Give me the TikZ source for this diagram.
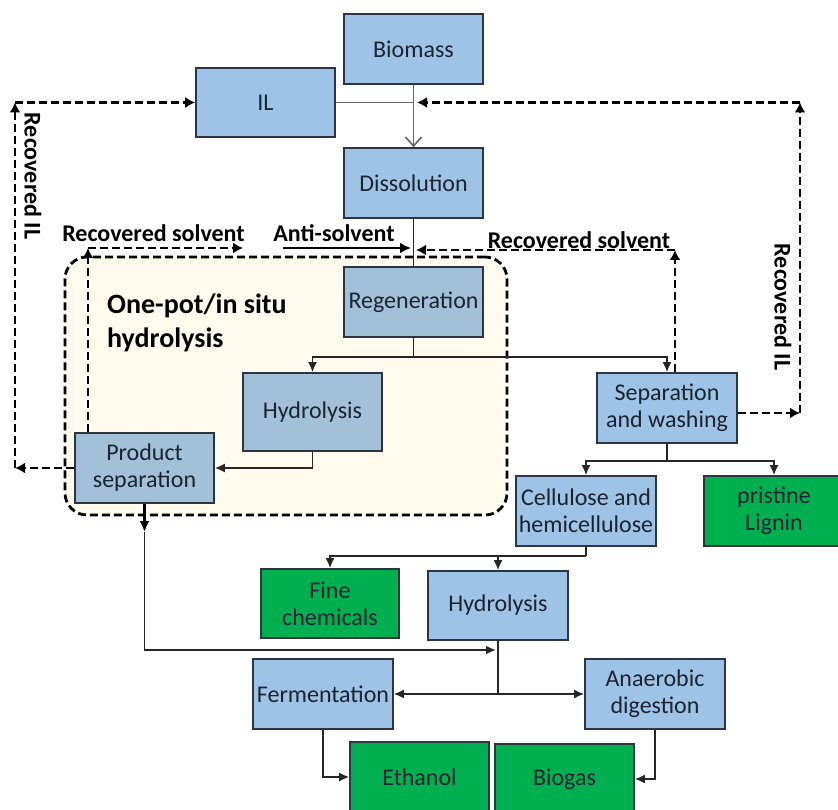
\documentclass[tikz,border=0pt]{standalone}
\usepackage{fontspec}
\setmainfont{Carlito}
\usetikzlibrary{arrows.meta}
\definecolor{procblue}{HTML}{9DC3E6}
\definecolor{potblue}{HTML}{A3C0D9}
\definecolor{prodgreen}{HTML}{00B050}
\definecolor{potcream}{HTML}{FFFBEE}
\definecolor{edgegray}{HTML}{2E3440}
\definecolor{linegray}{HTML}{262626}
\definecolor{txtdark}{HTML}{1B2433}
\tikzset{
  box/.style={draw=edgegray, line width=1.6pt, rectangle, inner sep=0pt,
    minimum width=139pt, minimum height=70pt, align=center, text=txtdark,
    font=\fontsize{24}{27}\selectfont},
  proc/.style={box, fill=procblue},
  potproc/.style={box, fill=potblue},
  prod/.style={box, fill=prodgreen},
  flow/.style={draw=linegray, line width=1.8pt},
  flowarr/.style={flow, -{Latex[length=10pt,width=9pt]}},
  recyc/.style={draw=black, line width=2.8pt, dash pattern=on 8pt off 4pt},
  recycarr/.style={recyc, -{Latex[length=10pt,width=11pt]}},
  lbl/.style={font=\fontsize{24}{27}\selectfont\bfseries, text=black, inner sep=0pt},
}
\begin{document}
\begin{tikzpicture}[x=1pt,y=-1pt]
\clip (0,0) rectangle (838,810);
\fill[white] (0,0) rectangle (838,810);

% one-pot region
\node[draw=black, line width=2.8pt, dash pattern=on 8pt off 4pt, fill=potcream,
  rounded corners=22pt, minimum width=442pt, minimum height=258pt, inner sep=0pt]
  (pot) at (286,386) {};
\node[font=\fontsize{28}{34}\selectfont\bfseries, align=left, anchor=west, inner sep=0pt]
  (pottitle) at (107,323) {One-pot/in situ\\hydrolysis};

% process boxes
\node[proc] (bio) at (413.5,49) {Biomass};
\node[proc, minimum height=69pt] (il) at (265.5,102.5) {IL};
\node[proc] (dis) at (413.5,183) {Dissolution};
\node[potproc] (reg) at (413.5,302) {Regeneration};
\node[potproc, minimum height=78pt] (hyd1) at (312.5,412) {Hydrolysis};
\node[potproc] (ps) at (144.5,468) {Product\\separation};
\node[proc, minimum width=140pt] (sw) at (667,408) {Separation\\and washing};
\node[proc, minimum width=140pt] (cel) at (586,511) {Cellulose and\\hemicellulose};
\node[prod, minimum width=140pt] (lig) at (774,511) {pristine\\Lignin};
\node[prod, minimum width=138pt, minimum height=69pt] (fine) at (330,603.5) {Fine\\chemicals};
\node[proc, minimum width=140pt, minimum height=69pt] (hyd2) at (498,605.5) {Hydrolysis};
\node[proc, minimum width=140pt] (fer) at (323,694) {Fermentation};
\node[proc, minimum width=140pt] (ana) at (655,694) {Anaerobic\\digestion};
\node[prod] (eth) at (419.5,777) {Ethanol};
\node[prod] (bgs) at (564.5,779) {Biogas};

% labels
\node[lbl] (lrs) at (153.5,233) {Recovered solvent};
\node[lbl] (las) at (334,233) {Anti-solvent};
\node[lbl] (rrs) at (579,240) {Recovered solvent};
\node[lbl, rotate=-90] (lil) at (33,176) {Recovered IL};
\node[lbl, rotate=-90] (ril) at (783,307) {Recovered IL};

% junction points
\coordinate (jIL) at (413.5,102.5);
\coordinate (jReg) at (413.5,357);
\coordinate (jSw) at (667,461);
\coordinate (jCel) at (586,556);
\coordinate (jH2) at (498,694);
\coordinate (asA) at (283,248);
\coordinate (asB) at (411,248);
\coordinate (rsR) at (675,250);
\coordinate (rsL) at (416,250);
\coordinate (lsC) at (88,248);
\coordinate (lsE) at (243,248);
\coordinate (lilB) at (15,468);
\coordinate (lilT) at (15,102.5);
\coordinate (rilB) at (800,413);
\coordinate (rilT) at (800,102.5);
\coordinate (rilE) at (417,102.5);
\coordinate (psA) at (144.5,532);
\coordinate (mix) at (496,650);

% main flow
\draw[draw=gray!80!black, line width=1.6pt, -{Straight Barb[length=9pt,width=16pt]}] (bio.south) -- (dis.north);
\draw[draw=gray!80!black, line width=1.6pt] (il.east) -- (jIL);
\draw[flow] (dis.south) -- (reg.north);
\draw[draw=black, line width=2.8pt, -{Latex[length=11pt,width=11pt]}] (asA) -- (asB);
\draw[flow] (reg.south) -- (jReg);
\draw[flowarr] (jReg) -| (hyd1.north);
\draw[flowarr] (jReg) -| (sw.north);
\draw[flowarr] (hyd1.south) |- (ps.east);
\draw[draw=black, line width=2.8pt, -{Latex[length=11pt,width=10pt]}] (ps.south) -- (psA);
\draw[flowarr] (psA) |- (mix);
\draw[flow] (sw.south) -- (jSw);
\draw[flowarr] (jSw) -| (cel.north);
\draw[flowarr] (jSw) -| (lig.north);
\draw[flow] (cel.south) -- (jCel);
\draw[flowarr] (jCel) -| (fine.north);
\draw[flowarr] (jCel) -| (hyd2.north);
\draw[flow] (hyd2.south) -- (jH2);
\draw[flowarr] (jH2) -- (fer.east);
\draw[flowarr] (jH2) -- (ana.west);
\draw[flowarr] (fer.south) |- (eth.west);
\draw[flowarr] (ana.south) |- (bgs.east);

% recycle loops
\draw[recycarr] (rsR |- sw.north) -- (rsR);
\draw[recycarr] (rsR) -- (rsL);
\draw[recycarr] (lsC |- ps.north) -- (lsC);
\draw[recycarr] (lsC) -- (lsE);
\draw[recycarr] (ps.west) -- (lilB);
\draw[recycarr] (lilB) -- (lilT);
\draw[recycarr] (lilT) -- (il.west);
\draw[recycarr] (sw.east |- rilB) -- (rilB);
\draw[recycarr] (rilB) -- (rilT);
\draw[recycarr] (rilT) -- (rilE);
\end{tikzpicture}
\end{document}
